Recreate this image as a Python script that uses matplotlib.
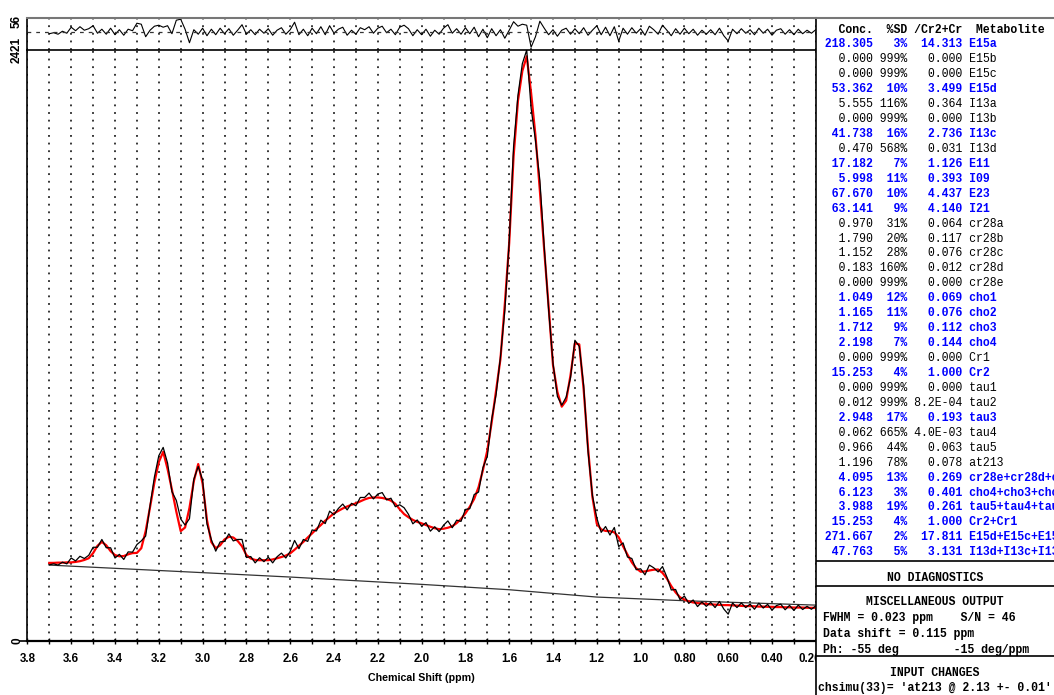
import numpy as np
import matplotlib
matplotlib.use("Agg")
import matplotlib.pyplot as plt
import matplotlib.transforms as mtransforms
from matplotlib.ticker import MultipleLocator

W, H = 1054, 695

# spectrum sampled every 0.02 ppm, 3.70 -> 0.20
fit = [
    320, 320, 321, 321, 322, 322, 324, 327, 332, 339,        # 3.70
    360, 390, 406, 392, 368, 352, 347, 348, 355, 360,        # 3.50
    361, 380, 450, 548, 650, 733, 775, 705, 620, 530,        # 3.30
    450, 465, 545, 655, 725, 645, 495, 405, 380, 392,        # 3.10
    416, 427, 424, 410, 388, 352, 338, 332, 331, 331,        # 2.90
    331, 334, 339, 344, 350, 359, 374, 390, 406, 424,        # 2.70
    441, 459, 475, 493, 508, 523, 533, 543, 551, 558,        # 2.50
    564, 572, 580, 586, 588, 588, 586, 582, 575, 562,        # 2.30
    540, 520, 507, 496, 488, 482, 475, 468, 462, 458,        # 2.10
    460, 464, 470, 483, 500, 523, 550, 582, 630, 700,        # 1.90
    780, 896, 1025, 1155, 1380, 1630, 1985, 2213, 2335, 2395,  # 1.70
    2245, 2070, 1845, 1600, 1370, 1130, 1020, 960, 985, 1089,  # 1.50
    1220, 1215, 1030, 790, 590, 480, 457, 451, 450, 445,     # 1.30
    425, 388, 354, 322, 298, 284, 285, 289, 292, 293,        # 1.10
    279, 256, 225, 199, 179, 170, 162, 158, 155, 154,        # 0.90
    152, 150, 149, 148, 147, 147, 146, 145, 144, 143,        # 0.70
    143, 142, 141, 141, 140, 140, 139, 139, 138, 138,        # 0.50
    137, 137, 137, 136, 136, 136,                            # 0.30
]
data = [
    312, 316, 311, 323, 316, 340, 328, 347, 338, 351,
    384, 384, 416, 382, 382, 340, 355, 334, 365, 364,
    395, 410, 430, 554, 672, 759, 793, 729, 612, 576,
    500, 475, 501, 663, 715, 659, 479, 415, 368, 406,
    408, 439, 410, 416, 416, 342, 346, 320, 341, 325,
    343, 320, 345, 360, 340, 367, 412, 378, 416, 408,
    455, 451, 495, 481, 532, 517, 543, 561, 537, 564,
    554, 588, 588, 606, 582, 602, 608, 578, 585, 550,
    558, 546, 519, 480, 496, 470, 485, 450, 468, 448,
    474, 492, 464, 495, 490, 539, 542, 600, 610, 710,
    756, 908, 1009, 1163, 1354, 1636, 2025, 2235, 2365, 2421,
    2183, 2050, 1887, 1614, 1358, 1138, 1002, 966, 999, 1079,
    1232, 1207, 1046, 776, 596, 504, 445, 469, 434, 465,
    387, 402, 344, 338, 292, 296, 271, 311, 300, 283,
    305, 262, 209, 211, 169, 184, 154, 168, 141, 160,
    142, 158, 137, 162, 131, 110, 156, 137, 156, 137,
    151, 130, 155, 135, 150, 126, 145, 151, 128, 146,
    125, 147, 129, 142, 130, 144,
]
ppm = np.linspace(3.70, 0.20, len(fit))
resid = np.array(data) - np.array(fit)

base_ppm = [3.70, 3.00, 2.60, 2.00, 1.60, 1.20, 0.80, 0.20]
base_val = [311, 280, 262, 232, 210, 180, 165, 147]

xtick_vals = [3.8, 3.6, 3.4, 3.2, 3.0, 2.8, 2.6, 2.4, 2.2, 2.0, 1.8, 1.6, 1.4, 1.2, 1.0, 0.8, 0.6, 0.4, 0.2]
xtick_text = ["3.8", "3.6", "3.4", "3.2", "3.0", "2.8", "2.6", "2.4", "2.2", "2.0",
              "1.8", "1.6", "1.4", "1.2", "1.0", "0.80", "0.60", "0.40", "0.20"]

# concentration table
names = ["E15a", "E15b", "E15c", "E15d", "I13a", "I13b", "I13c", "I13d", "E11", "I09",
         "E23", "I21", "cr28a", "cr28b", "cr28c", "cr28d", "cr28e", "cho1", "cho2", "cho3",
         "cho4", "Cr1", "Cr2", "tau1", "tau2", "tau3", "tau4", "tau5", "at213",
         "cr28e+cr28d+cr28c+cr28b+cr28a", "cho4+cho3+cho2+cho1", "tau5+tau4+tau3+tau2+tau1",
         "Cr2+Cr1", "E15d+E15c+E15b+E15a", "I13d+I13c+I13b+I13a"]
conc = [218.305, 0.000, 0.000, 53.362, 5.555, 0.000, 41.738, 0.470, 17.182, 5.998,
        67.670, 63.141, 0.970, 1.790, 1.152, 0.183, 0.000, 1.049, 1.165, 1.712,
        2.198, 0.000, 15.253, 0.000, 0.012, 2.948, 0.062, 0.966, 1.196,
        4.095, 6.123, 3.988, 15.253, 271.667, 47.763]
sd = [3, 999, 999, 10, 116, 999, 16, 568, 7, 11,
      10, 9, 31, 20, 28, 160, 999, 12, 11, 9,
      7, 999, 4, 999, 999, 17, 665, 44, 78,
      13, 3, 19, 4, 2, 5]
ratio = [14.313, 0.000, 0.000, 3.499, 0.364, 0.000, 2.736, 0.031, 1.126, 0.393,
         4.437, 4.140, 0.064, 0.117, 0.076, 0.012, 0.000, 0.069, 0.076, 0.112,
         0.144, 0.000, 1.000, 0.000, 8.2e-4, 0.193, 4.0e-3, 0.063, 0.078,
         0.269, 0.401, 0.261, 1.000, 17.811, 3.131]
flagged = [1, 0, 0, 1, 0, 0, 1, 0, 1, 1,
           1, 1, 0, 0, 0, 0, 0, 1, 1, 1,
           1, 0, 1, 0, 0, 1, 0, 0, 0,
           1, 1, 1, 1, 1, 1]


def box(x0, y0, x1, y1):
    return [x0 / W, 1 - y1 / H, (x1 - x0) / W, (y1 - y0) / H]


fig = plt.figure(figsize=(W / 100, H / 100), dpi=100)
ax = fig.add_axes(box(27.4, 50, 815.8, 641))
axr = fig.add_axes(box(27.4, 17.7, 815.8, 50))
axt = fig.add_axes(box(815.8, 17.7, W + 5, H + 5))
axt.set_zorder(5)

dots = (0, (1.2, 3.8))
sans = "Liberation Sans"
mono = "Liberation Mono"

# main spectrum
ax.plot(ppm, fit, color="red", lw=1.6, zorder=3)
ax.plot(ppm, data, color="black", lw=0.9, zorder=4)
ax.plot(base_ppm, base_val, color="#333333", lw=0.9, zorder=2)
ax.set_xlim(3.8, 0.2)
ax.set_ylim(0, 2421)
ax.xaxis.set_minor_locator(MultipleLocator(0.1))
ax.set_xticks(xtick_vals)
ax.set_xticklabels(xtick_text, fontfamily=sans, fontweight="bold", fontsize=8.3)
ax.grid(which="both", axis="x", color="black", ls=dots, lw=1.1)
ax.tick_params(axis="x", which="both", direction="inout", length=5, width=1, pad=6)
# the last label sits partly under the table frame
last = ax.get_xticklabels()[-1]
last.set_transform(last.get_transform() +
                   mtransforms.ScaledTranslation(-0.06, 0, fig.dpi_scale_trans))
ax.set_xlabel("Chemical Shift (ppm)", fontfamily=sans, fontweight="bold", fontsize=7.7, labelpad=6)
ax.set_yticks([0, 2421])
ax.set_yticklabels(["0", "2421"], rotation=90, va="center", fontfamily=sans,
                   fontweight="bold", fontsize=8.5)
ax.tick_params(axis="y", length=6, width=1.2, pad=0)
ax.yaxis.get_major_ticks()[1].tick1line.set_visible(False)
nudge = mtransforms.ScaledTranslation(0.04, 0, fig.dpi_scale_trans)
for lab in ax.get_yticklabels():
    lab.set_transform(lab.get_transform() + nudge)
ax.spines["right"].set_visible(False)
for s in ("left", "top"):
    ax.spines[s].set_linewidth(1.2)
ax.spines["bottom"].set_linewidth(1.6)

# residual strip
axr.plot(ppm, resid, color="black", lw=0.8)
axr.axhline(0, color="#333333", lw=0.9, ls=(0, (3, 4)))
axr.set_xlim(3.8, 0.2)
axr.set_ylim(-73, 56)
axr.xaxis.set_minor_locator(MultipleLocator(0.1))
axr.set_xticks(xtick_vals)
axr.grid(which="both", axis="x", color="black", ls=dots, lw=1.1)
axr.tick_params(axis="x", which="both", length=0, labelbottom=False)
axr.set_yticks([56])
axr.set_yticklabels(["56"], rotation=90, va="center", fontfamily=sans,
                    fontweight="bold", fontsize=8.5)
axr.tick_params(axis="y", length=6, pad=0)
axr.yaxis.get_major_ticks()[0].tick1line.set_visible(False)
shift = mtransforms.ScaledTranslation(0.04, -0.04, fig.dpi_scale_trans)
for lab in axr.get_yticklabels():
    lab.set_transform(lab.get_transform() + shift)
axr.patch.set_alpha(0)
axr.spines["right"].set_visible(False)
axr.spines["bottom"].set_visible(False)
axr.spines["top"].set_color("#777777")
axr.spines["top"].set_linewidth(1.5)
axr.spines["left"].set_linewidth(1.2)

# table panel, coordinates in pixels from the top-left corner
axt.set_xlim(815.8, W + 5)
axt.set_ylim(H + 5, 17.7)
axt.set_xticks([])
axt.set_yticks([])
axt.spines["right"].set_visible(False)
axt.spines["bottom"].set_visible(False)
axt.spines["top"].set_color("#777777")
axt.spines["top"].set_linewidth(1.5)
axt.spines["left"].set_linewidth(1.2)

x0 = 810.7
axt.text(x0, 30, "    Conc.  %SD /Cr2+Cr  Metabolite", family=mono, weight="bold",
         fontsize=8.3, va="center", ha="left", clip_on=False)
for i, (c, s, r, n, f) in enumerate(zip(conc, sd, ratio, names, flagged)):
    rs = f"{r:7.1E}" if 0 < r < 0.01 else f"{r:7.3f}"
    line = f"{c:9.3f}{s:4d}% {rs} {n}"
    axt.text(x0, 44.3 + i * 14.94, line, family=mono, fontsize=8.3,
             weight="bold" if f else "normal", color="blue" if f else "black",
             va="center", ha="left", clip_on=False)

for yl in (560.7, 586, 656):
    axt.axhline(yl, color="black", lw=1.2)

mid = (815.8 + W) / 2
axt.text(mid, 578, "NO DIAGNOSTICS", family=mono, weight="bold", fontsize=8.3, ha="center", va="center")
axt.text(mid, 602, "MISCELLANEOUS OUTPUT", family=mono, weight="bold", fontsize=8.3, ha="center", va="center")
misc = ["FWHM = 0.023 ppm    S/N = 46",
        "Data shift = 0.115 ppm",
        "Ph: -55 deg        -15 deg/ppm"]
for i, s in enumerate(misc):
    axt.text(823, 618.3 + i * 15.6, s, family=mono, weight="bold", fontsize=8.3, ha="left", va="center")
axt.text(mid, 673.3, "INPUT CHANGES", family=mono, weight="bold", fontsize=8.3, ha="center", va="center")
axt.text(818, 688.3, "chsimu(33)= 'at213 @ 2.13 +- 0.01'", family=mono, weight="bold",
         fontsize=8.3, ha="left", va="center", clip_on=False)

fig.savefig("out.png", dpi=100, facecolor="white")
